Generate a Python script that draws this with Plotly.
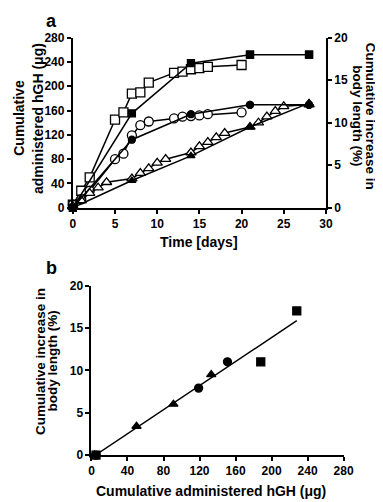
import numpy as np
import plotly.graph_objects as go

# ---------------- Panel a data ----------------
# cumulative administered hGH (µg), open markers, left axis
sq_open_days = [0, 1, 2, 5, 6, 7, 8, 9, 12, 13, 14, 15, 16, 20]
sq_open_hgh = [5, 28, 50, 145, 157, 188, 190, 206, 222, 224, 228, 230, 232, 235]

ci_open_days = [0, 1, 2, 5, 6, 7, 8, 9, 12, 13, 14, 15, 16, 20]
ci_open_hgh = [5, 14, 28, 80, 89, 119, 136, 142, 147, 150, 151, 152, 154, 157]

tr_open_days = [0, 1, 2, 3, 4, 7, 8, 9, 10, 11, 14, 15, 16, 17, 18, 21, 22, 23, 24, 25, 28]
tr_open_hgh = [3, 12, 24, 33, 42, 48, 57, 65, 74, 80, 91, 101, 108, 116, 123, 133, 140, 150, 159, 167, 170]

# cumulative increase in body length (%), filled markers, right axis
fill_days = [0, 7, 14, 21, 28]
sq_fill_len = [0, 11.1, 17.0, 18.0, 18.0]
ci_fill_len = [0, 8.0, 11.0, 12.1, 12.1]
tr_fill_len = [0, 3.2, 6.1, 9.5, 12.3]

# ---------------- Panel b data ----------------
b_sq_hgh = [5, 188, 228]
b_sq_len = [0, 11.0, 17.0]
b_ci_hgh = [5, 119, 151]
b_ci_len = [0, 7.9, 11.0]
b_tr_hgh = [3, 50, 91, 133]
b_tr_len = [0, 3.4, 6.0, 9.5]

a_xticks = [0, 5, 10, 15, 20, 25, 30]
a_yticks = [0, 40, 80, 120, 160, 200, 240, 280]
a_y2ticks = [0, 5, 10, 15, 20]
b_xticks = [0, 40, 80, 120, 160, 200, 240, 280]
b_yticks = [0, 5, 10, 15, 20]

W, H = 383, 502
FONT = "Liberation Sans, Arial, Helvetica, sans-serif"
BLACK = "#000000"


def px_x(p):
    return p / W


def px_y(p):
    return 1 - p / H


fig = go.Figure()

LW = 1.5


def add(x, y, symbol, filled, size, xa, ya, mode="lines+markers"):
    fig.add_trace(go.Scatter(
        x=x, y=y, mode=mode, xaxis=xa, yaxis=ya,
        line=dict(color=BLACK, width=LW),
        marker=dict(symbol=symbol, size=size,
                    color=BLACK if filled else "white",
                    line=dict(color=BLACK, width=1.3)),
        cliponaxis=False, showlegend=False, hoverinfo="x+y"))


# filled (body length) first, open (hGH) on top
add(fill_days, sq_fill_len, "square", True, 7, "x", "y2")
add(fill_days, ci_fill_len, "circle", True, 7, "x", "y2")
add(fill_days, tr_fill_len, "triangle-up", True, 7, "x", "y2")
add(sq_open_days, sq_open_hgh, "square", False, 9, "x", "y")
add(ci_open_days, ci_open_hgh, "circle", False, 9, "x", "y")
add(tr_open_days, tr_open_hgh, "triangle-up", False, 9, "x", "y")
# filled markers at day 21/28 drawn on top (as in reference)
fig.add_trace(go.Scatter(
    x=fill_days[3:] * 3, y=sq_fill_len[3:] + ci_fill_len[3:] + tr_fill_len[3:],
    mode="markers", xaxis="x", yaxis="y2",
    marker=dict(symbol=["square"] * 2 + ["circle"] * 2 + ["triangle-up"] * 2,
                size=7, color=BLACK, line=dict(color=BLACK, width=1.3)),
    cliponaxis=False, showlegend=False, hoverinfo="x+y"))

# panel b regression line computed from the points
bx = np.array(b_sq_hgh + b_ci_hgh + b_tr_hgh, dtype=float)
by = np.array(b_sq_len + b_ci_len + b_tr_len, dtype=float)
slope, intercept = np.polyfit(bx, by, 1)
lx = np.array([bx.min() + 2, bx.max()])
fig.add_trace(go.Scatter(x=lx, y=slope * lx + intercept, mode="lines",
                         xaxis="x3", yaxis="y3", line=dict(color=BLACK, width=LW),
                         showlegend=False, hoverinfo="skip"))
add(b_sq_hgh, b_sq_len, "square", True, 8, "x3", "y3", mode="markers")
add(b_ci_hgh, b_ci_len, "circle", True, 8, "x3", "y3", mode="markers")
add(b_tr_hgh, b_tr_len, "triangle-up", True, 8, "x3", "y3", mode="markers")

tickfont = dict(family=FONT, size=12, color=BLACK, weight="bold")
axis_common = dict(showgrid=False, zeroline=False, showline=True,
                   linecolor=BLACK, linewidth=2, ticks="outside",
                   ticklen=4, tickwidth=1.5, tickcolor=BLACK,
                   tickfont=tickfont, fixedrange=True)

fig.update_layout(
    width=W, height=H,
    margin=dict(l=0, r=0, t=0, b=0),
    paper_bgcolor="white", plot_bgcolor="white",
    font=dict(family=FONT, color=BLACK),
    xaxis=dict(domain=[px_x(64), px_x(326)], range=[0, 30],
               tickvals=a_xticks, anchor="y", **axis_common),
    yaxis=dict(domain=[px_y(198.3), px_y(23.3)], range=[0, 280],
               tickvals=a_yticks, anchor="x", **axis_common),
    yaxis2=dict(range=[0, 20], tickvals=a_y2ticks, overlaying="y",
                side="right", anchor="x", **axis_common),
    xaxis3=dict(domain=[px_x(83.3), px_x(344.3)], range=[0, 280],
                tickvals=b_xticks, anchor="y3", **axis_common),
    yaxis3=dict(domain=[px_y(452.7), px_y(278.3)], range=[0, 20],
                tickvals=b_yticks, anchor="x3", **axis_common),
)

title_font = dict(family=FONT, size=14, color=BLACK, weight="bold")
title_font_s = dict(family=FONT, size=13.5, color=BLACK, weight="bold")
panel_font = dict(family=FONT, size=18, color=BLACK, weight="bold")
ann = [
    dict(text="a", x=px_x(42), y=px_y(6), font=panel_font),
    dict(text="b", x=px_x(42), y=px_y(260), font=panel_font),
    dict(text="Cumulative", x=px_x(8), y=px_y(106), textangle=-90, font=title_font),
    dict(text="administered hGH (μg)", x=px_x(28), y=px_y(107), textangle=-90, font=title_font),
    dict(text="Cumulative increase in", x=px_x(373), y=px_y(104), textangle=90, font=title_font_s),
    dict(text="body length (%)", x=px_x(359), y=px_y(104), textangle=90, font=title_font_s),
    dict(text="Time [days]", x=px_x(195), y=px_y(234), font=title_font),
    dict(text="Cumulative increase in", x=px_x(30), y=px_y(356), textangle=-90, font=title_font_s),
    dict(text="body length (%)", x=px_x(43), y=px_y(356), textangle=-90, font=title_font_s),
    dict(text="Cumulative administered hGH (μg)", x=px_x(207), y=px_y(490), font=title_font),
]
for a in ann:
    fig.add_annotation(xref="paper", yref="paper", showarrow=False,
                       xanchor="center", yanchor="middle", **a)

fig.write_html("out.html")
